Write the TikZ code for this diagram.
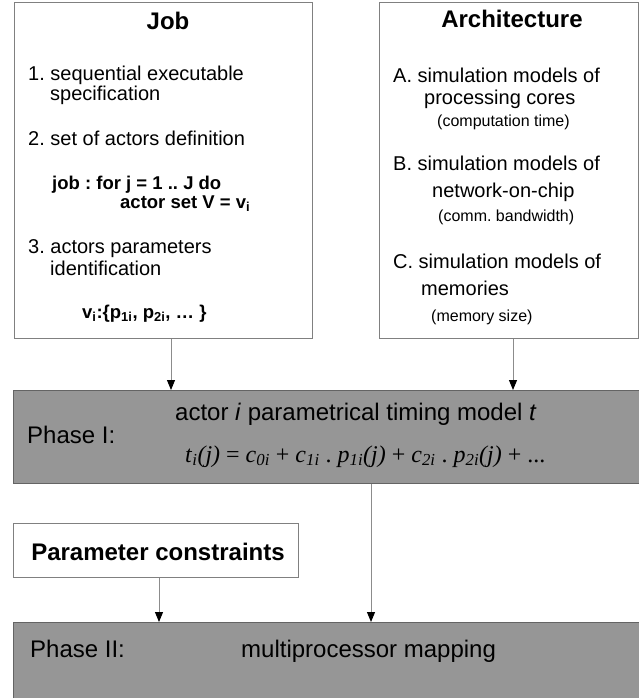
\documentclass[tikz,border=0pt]{standalone}
\usepackage{fontspec}
\setmainfont{Liberation Sans}
\newfontfamily\eqfont{Liberation Serif}
\usetikzlibrary{arrows.meta}
\frenchspacing
\definecolor{panelgray}{RGB}{150,150,150}
\definecolor{paneledge}{RGB}{100,100,100}
\definecolor{boxedge}{RGB}{128,128,128}
\definecolor{wire}{RGB}{140,140,140}
% italic symbol with italic subscript, for the timing equation
\newcommand\eqsym[2]{\textit{#1}\textsubscript{\textit{#2}}}
\tikzset{
  wbox/.style={draw=boxedge, line width=1.2pt, fill=white, inner sep=0pt, anchor=north west},
  phasebox/.style={draw=paneledge, line width=1.2pt, fill=panelgray, inner sep=0pt, anchor=north west},
  head/.style={font=\fontsize{24}{28}\selectfont\bfseries, inner sep=0pt, anchor=base},
  body/.style={font=\fontsize{20}{22}\selectfont, inner sep=0pt, anchor=base west},
  note/.style={font=\fontsize{16}{18}\selectfont, inner sep=0pt, anchor=base west},
  code/.style={font=\fontsize{18.5}{20}\selectfont\bfseries, inner sep=0pt, anchor=base west},
  big/.style={font=\fontsize{24}{28}\selectfont, inner sep=0pt, anchor=base west},
  arr/.style={draw=wire, line width=1pt, -{Triangle[width=8pt,length=10pt,fill=black,color=black]}},
}
\begin{document}
\begin{tikzpicture}[x=1pt, y=-1pt]
  \useasboundingbox (0,0) rectangle (639,698);
  \clip (0,0) rectangle (639,698);

  % boxes
  \node[wbox, minimum width=298pt, minimum height=336pt] (job) at (14,2) {};
  \node[wbox, minimum width=259pt, minimum height=336pt] (arch) at (379,2) {};
  \node[phasebox, minimum width=640pt, minimum height=93pt] (ph1) at (13,390) {};
  \node[wbox, minimum width=285pt, minimum height=54pt] (pc) at (13,523) {};
  \node[phasebox, minimum width=640pt, minimum height=76pt] (ph2) at (13,622) {};

  % Job column
  \node[head] (jobt) at (168,30) {Job};
  \node[body] (j1a) at (28,81) {1. sequential executable};
  \node[body] (j1b) at (50,101) {specification};
  \node[body] (j2) at (28,145) {2. set of actors definition};
  \node[code] (jc1) at (52,189) {job : for j = 1 .. J do};
  \node[code] (jc2) at (120,208) {actor set V = v\textsubscript{i}};
  \node[body] (j3a) at (28,253) {3. actors parameters};
  \node[body] (j3b) at (50,275) {identification};
  \node[code] (jv) at (82,318) {v\textsubscript{i}:\{p\textsubscript{1i}, p\textsubscript{2i}, \ldots\ \}};

  % Architecture column
  \node[head] (archt) at (512,28) {Architecture};
  \node[body] (aa1) at (393,83) {A. simulation models of};
  \node[body] (aa2) at (424,105) {processing cores};
  \node[note] (aa3) at (437,127) {(computation time)};
  \node[body] (ab1) at (393,170) {B. simulation models of};
  \node[body] (ab2) at (432,197) {network-on-chip};
  \node[note] (ab3) at (438,221) {(comm. bandwidth)};
  \node[body] (ac1) at (393,268) {C. simulation models of};
  \node[body] (ac2) at (421,295) {memories};
  \node[note] (ac3) at (431,321) {(memory size)};

  % Phase I
  \node[big] (p1l) at (27,443) {Phase I:};
  \node[big] (p1t) at (175,420) {actor \textit{i} parametrical timing model \textit{t}};
  \node[big, font=\fontsize{24}{28}\selectfont\eqfont] (p1e) at (185,462)
    {\eqsym{t}{i}\textit{(j)} = \eqsym{c}{0i} + \eqsym{c}{1i} . \eqsym{p}{1i}\textit{(j)} + \eqsym{c}{2i} . \eqsym{p}{2i}\textit{(j)} + ...};

  % constraints and Phase II
  \node[head] (pct) at (158,560) {Parameter constraints};
  \node[big] (p2l) at (30,657) {Phase II:};
  \node[big] (p2t) at (241,657) {multiprocessor mapping};

  % connectors
  \coordinate (xa) at (171,0);
  \coordinate (xb) at (513,0);
  \coordinate (xc) at (371,0);
  \coordinate (xd) at (159,0);
  \draw[arr] (xa |- job.south) -- (xa |- ph1.north);
  \draw[arr] (xb |- arch.south) -- (xb |- ph1.north);
  \draw[arr] (xc |- ph1.south) -- (xc |- ph2.north);
  \draw[arr] (xd |- pc.south) -- (xd |- ph2.north);
\end{tikzpicture}
\end{document}
